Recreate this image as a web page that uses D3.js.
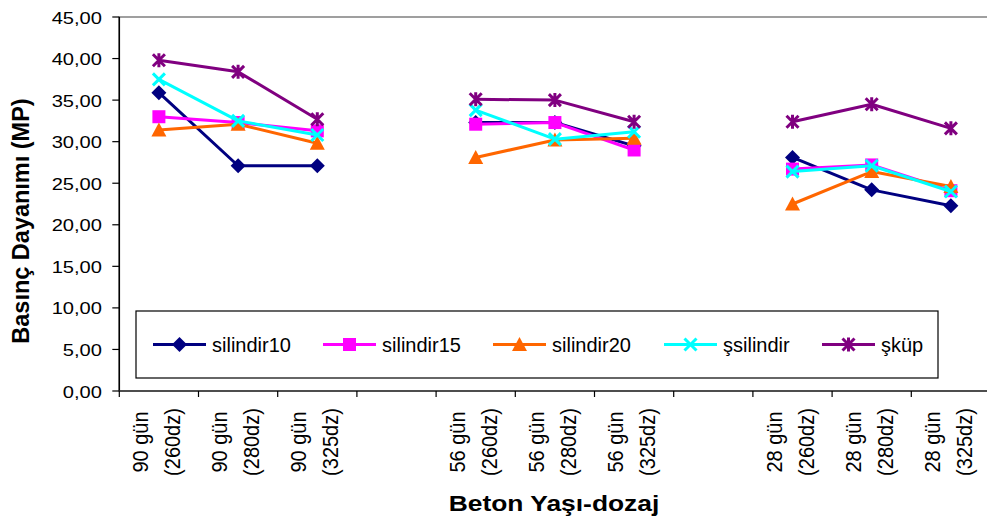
<!DOCTYPE html>
<html><head><meta charset="utf-8">
<script src="https://cdn.jsdelivr.net/npm/d3@7"></script>
<style>
html,body{margin:0;padding:0;background:#fff;}
svg{display:block;font-family:"Liberation Sans",Arial,sans-serif;}
</style></head>
<body>
<svg id="chart" width="987" height="525"></svg>
<script>
// ---- data ----
const ageLabels  = ["90 gün","90 gün","90 gün",null,"56 gün","56 gün","56 gün",null,"28 gün","28 gün","28 gün"];
const doseLabels = ["(260dz)","(280dz)","(325dz)",null,"(260dz)","(280dz)","(325dz)",null,"(260dz)","(280dz)","(325dz)"];
const silindir10 = [35.9, 27.1, 27.1, null, 32.3, 32.3, 29.5, null, 28.1, 24.2, 22.3];
const silindir15 = [33.0, 32.3, 31.3, null, 32.1, 32.3, 29.0, null, 26.7, 27.2, 24.1];
const silindir20 = [31.4, 32.1, 29.8, null, 28.1, 30.2, 30.4, null, 22.5, 26.4, 24.6];
const ssilindir  = [37.5, 32.5, 30.8, null, 33.8, 30.3, 31.2, null, 26.4, 27.1, 24.0];
const skup       = [39.8, 38.4, 32.7, null, 35.1, 35.0, 32.4, null, 32.4, 34.5, 31.6];
const seriesNames = ["silindir10","silindir15","silindir20","şsilindir","şküp"];
const yTicks = [0,5,10,15,20,25,30,35,40,45];
const yTitle = "Basınç Dayanımı (MP)";
const xTitle = "Beton Yaşı-dozaj";

const series = [
  {name: seriesNames[0], values: silindir10, color: "#000080", marker: "diamond"},
  {name: seriesNames[1], values: silindir15, color: "#FF00FF", marker: "square"},
  {name: seriesNames[2], values: silindir20, color: "#FF6600", marker: "triangle"},
  {name: seriesNames[3], values: ssilindir,  color: "#00FFFF", marker: "x"},
  {name: seriesNames[4], values: skup,       color: "#800080", marker: "star"}
];

const svg = d3.select("#chart");
const L = 119.3, R = 990.5, T = 17, B = 391;
const x = d3.scaleBand().domain(d3.range(ageLabels.length)).range([L, R]).padding(0);
const y = d3.scaleLinear().domain([0, 45]).range([B, T]);
const cx = i => x(i) + x.bandwidth() / 2;

// plot frame (top/right gray)
svg.append("rect").attr("x", L).attr("y", T).attr("width", R - L).attr("height", B - T)
  .attr("fill", "#fff").attr("stroke", "#808080").attr("stroke-width", 1.5);

// y axis
const yAxis = svg.append("g");
yAxis.append("line").attr("x1", L).attr("x2", L).attr("y1", T).attr("y2", B)
  .attr("stroke", "#000").attr("stroke-width", 1.5);
yTicks.forEach(t => {
  yAxis.append("line").attr("x1", L - 7).attr("x2", L).attr("y1", y(t)).attr("y2", y(t))
    .attr("stroke", "#000").attr("stroke-width", 1.2);
  yAxis.append("text")
    .attr("transform", `translate(102,${y(t) + 6.5}) scale(1.22,1)`)
    .attr("text-anchor", "end").attr("font-size", 16.5).attr("fill", "#000")
    .text(d3.format(".2f")(t).replace(".", ","));
});

// x axis
const xAxis = svg.append("g");
xAxis.append("line").attr("x1", L).attr("x2", R).attr("y1", B).attr("y2", B)
  .attr("stroke", "#333").attr("stroke-width", 1.5);
const bounds = d3.range(ageLabels.length + 1).map(i => i < ageLabels.length ? x(i) : x(i - 1) + x.bandwidth());
bounds.forEach(bx => {
  xAxis.append("line").attr("x1", bx).attr("x2", bx).attr("y1", B).attr("y2", B + 6)
    .attr("stroke", "#000").attr("stroke-width", 1.2);
});
ageLabels.forEach((lab, i) => {
  if (!lab) return;
  xAxis.append("text").attr("transform", `translate(${cx(i) - 11},442) rotate(-90) scale(1,1.1)`)
    .attr("text-anchor", "middle").attr("font-size", 20).attr("fill", "#000").text(lab);
  xAxis.append("text").attr("transform", `translate(${cx(i) + 21},442) rotate(-90) scale(1,1.1)`)
    .attr("text-anchor", "middle").attr("font-size", 20).attr("fill", "#000").text(doseLabels[i]);
});

// titles
svg.append("text").attr("transform", "translate(29,221) rotate(-90) scale(1,1.05)")
  .attr("text-anchor", "middle").attr("font-size", 23.5).attr("font-weight", "bold").text(yTitle);
svg.append("text").attr("transform", "translate(554,511) scale(1.2,1)")
  .attr("text-anchor", "middle").attr("font-size", 22).attr("font-weight", "bold").text(xTitle);

// markers
function drawMarker(g, type, px, py, color) {
  if (type === "diamond") {
    const s = 7.5;
    g.append("path").attr("d", `M${px},${py - s}L${px + s},${py}L${px},${py + s}L${px - s},${py}Z`).attr("fill", color);
  } else if (type === "square") {
    const s = 6.5;
    g.append("rect").attr("x", px - s).attr("y", py - s).attr("width", 2 * s).attr("height", 2 * s).attr("fill", color);
  } else if (type === "triangle") {
    const s = 7.5;
    g.append("path").attr("d", `M${px},${py - s}L${px + s},${py + s - 1}L${px - s},${py + s - 1}Z`).attr("fill", color);
  } else if (type === "x") {
    const s = 6;
    g.append("path").attr("d", `M${px - s},${py - s}L${px + s},${py + s}M${px - s},${py + s}L${px + s},${py - s}`)
      .attr("stroke", color).attr("stroke-width", 3).attr("fill", "none");
  } else if (type === "star") {
    const s = 6;
    g.append("path").attr("d", `M${px - s},${py - s}L${px + s},${py + s}M${px - s},${py + s}L${px + s},${py - s}M${px},${py - s - 1}L${px},${py + s + 1}`)
      .attr("stroke", color).attr("stroke-width", 3).attr("fill", "none");
  }
}

// series
const line = d3.line().defined(d => d != null).x((d, i) => cx(i)).y(d => y(d));
series.forEach(s => {
  const g = svg.append("g");
  g.append("path").attr("d", line(s.values)).attr("fill", "none")
    .attr("stroke", s.color).attr("stroke-width", 3).attr("stroke-linejoin", "round");
  s.values.forEach((v, i) => { if (v != null) drawMarker(g, s.marker, cx(i), y(v), s.color); });
});

// legend
const lg = svg.append("g");
lg.append("rect").attr("x", 136).attr("y", 311).attr("width", 802).attr("height", 67)
  .attr("fill", "#fff").attr("stroke", "#000").attr("stroke-width", 1.2);
const legendX = [153, 323, 493, 664, 822];
series.forEach((s, k) => {
  const lx = legendX[k], ly = 344.5;
  lg.append("line").attr("x1", lx).attr("x2", lx + 53).attr("y1", ly).attr("y2", ly)
    .attr("stroke", s.color).attr("stroke-width", 3);
  drawMarker(lg, s.marker, lx + 26.5, ly, s.color);
  lg.append("text").attr("transform", `translate(${lx + 59},352)`)
    .attr("font-size", 20).attr("fill", "#000").text(s.name);
});
</script>
</body></html>
